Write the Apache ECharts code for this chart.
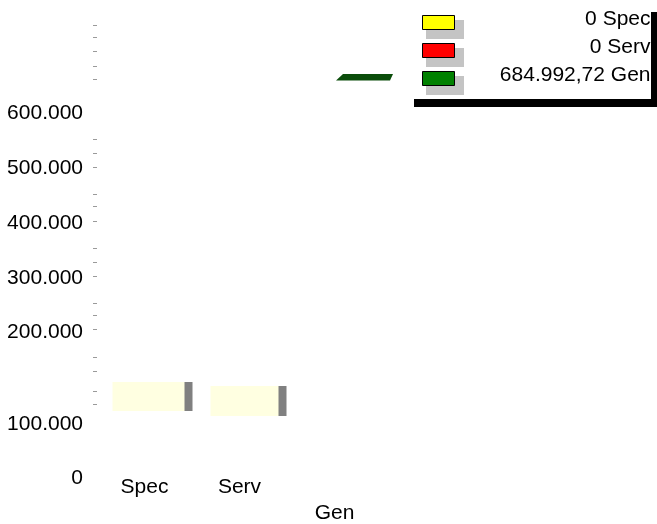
<!DOCTYPE html>
<html>
<head>
<meta charset="utf-8">
<script src="https://cdn.jsdelivr.net/npm/echarts@6/dist/echarts.min.js"></script>
<style>
  html, body { margin: 0; padding: 0; background: #fff; }
  #chart { width: 657px; height: 524px; }
</style>
</head>
<body>
<div id="chart"></div>
<script>
// ---- data ----
const categories = ['Spec', 'Serv', 'Gen'];
const values = [0, 0, 684992.72];
const legendColors = ['#ffff00', '#ff0000', '#008000'];
const lowTickLabels = [0, 100000];
const highTickLabels = [200000, 300000, 400000, 500000, 600000];
const minorTicks = [69000, 93000, 130000, 155000, 206000, 232000, 254000, 303000, 329000, 354000,
                    404000, 431000, 452000, 502000, 527000, 553000, 662000, 687000, 713000, 739000, 762000];

// ---- helpers ----
function fmt(v) {
  const parts = String(v).split('.');
  const i = parts[0].replace(/\B(?=(\d{3})+(?!\d))/g, '.');
  return parts[1] ? i + ',' + parts[1] : i;
}
const FONT = 'Liberation Sans, Arial, sans-serif';
const FS = 21;

// label box styles (not data)
const boxStyles = [
  { width: 72, height: 29, distance: 31, offset: [4, 0] },
  { width: 68, height: 30, distance: 26, offset: [5, 0] }
];

const chart = echarts.init(document.getElementById('chart'));

const barSeries = [0, 1].map(i => ({
  name: categories[i],
  type: 'bar',
  yAxisIndex: 1,
  stack: 'v',
  itemStyle: { color: legendColors[i] },
  data: categories.map((c, j) => j === i ? {
    value: values[i],
    label: {
      show: true,
      position: 'top',
      distance: boxStyles[i].distance,
      offset: boxStyles[i].offset,
      formatter: ' ',
      color: 'rgba(0,0,0,0)',
      width: boxStyles[i].width,
      height: boxStyles[i].height,
      padding: 0,
      backgroundColor: '#ffffe1',
      shadowColor: '#808080',
      shadowOffsetX: 8,
      shadowOffsetY: 0,
      shadowBlur: 0
    }
  } : null)
}));

const genSeries = {
  name: categories[2],
  type: 'pictorialBar',
  yAxisIndex: 1,
  symbol: 'path://M7,0L57,0L54,6.5L0,6.5Z',
  symbolSize: [57, 6.5],
  symbolPosition: 'end',
  symbolOffset: [30, 7],
  itemStyle: { color: '#0b4d0b' },
  z: 5,
  data: categories.map((c, j) => j === 2 ? values[2] : null)
};

const legendText = (w, color) => ({
  color: color,
  fontSize: FS,
  fontFamily: FONT,
  rich: {
    r: { width: w, align: 'right', fontSize: FS, fontFamily: FONT, color: color,
         lineHeight: 22, padding: [0, 0, 6, 0] }
  }
});
const legendFormatter = name => '{r|' + fmt(values[categories.indexOf(name)]) + ' ' + name + '}';

const option = {
  animation: false,
  backgroundColor: '#fff',
  textStyle: { fontFamily: FONT },
  grid: { left: 97, right: 275, top: 20, bottom: 46, containLabel: false },
  legend: [
    {
      // back layer: white box with black shadow and grey icon shadows
      orient: 'vertical',
      left: 406,
      top: 4,
      z: 4,
      padding: [12, 1, 0, 20],
      itemGap: 1,
      itemWidth: 38,
      itemHeight: 19,
      icon: 'rect',
      selectedMode: false,
      backgroundColor: '#fff',
      shadowColor: '#000',
      shadowOffsetX: 8,
      shadowOffsetY: 8,
      shadowBlur: 0,
      itemStyle: { borderWidth: 0 },
      data: categories.map(c => ({ name: c, itemStyle: { color: '#c4c4c4' } })),
      formatter: legendFormatter,
      textStyle: legendText(181, 'rgba(0,0,0,0)')
    },
    {
      // front layer: coloured icons and text
      orient: 'vertical',
      left: 406,
      top: 4,
      z: 5,
      padding: [5, 1, 7, 16],
      itemGap: 1,
      itemWidth: 32,
      itemHeight: 14,
      icon: 'rect',
      selectedMode: false,
      itemStyle: { borderColor: '#000', borderWidth: 1 },
      data: categories.map((c, i) => ({ name: c, itemStyle: { color: legendColors[i] } })),
      formatter: legendFormatter,
      textStyle: legendText(191, '#000')
    }
  ],
  xAxis: {
    type: 'category',
    data: categories.map((c, i) => i === 2 ? { value: c, textStyle: { padding: [26, 0, 0, 0] } } : c),
    axisLine: { show: false },
    axisTick: { show: false },
    splitLine: { show: false },
    axisLabel: { color: '#000', fontSize: FS, fontFamily: FONT, margin: -1, interval: 0 }
  },
  yAxis: [
    {
      type: 'value',
      min: 0,
      max: 856000,
      position: 'left',
      axisLine: { show: false },
      axisTick: { show: false },
      splitLine: { show: false },
      axisLabel: {
        customValues: lowTickLabels,
        formatter: v => fmt(v),
        margin: 14,
        color: '#000',
        fontSize: FS,
        fontFamily: FONT
      }
    },
    {
      type: 'value',
      min: -65800,
      max: 770800,
      position: 'left',
      axisLine: { show: false },
      splitLine: { show: false },
      axisTick: {
        show: true,
        customValues: minorTicks,
        length: 4,
        lineStyle: { color: '#9a9a9a', width: 1 }
      },
      axisLabel: {
        customValues: highTickLabels,
        formatter: v => fmt(v),
        margin: 14,
        color: '#000',
        fontSize: FS,
        fontFamily: FONT
      }
    }
  ],
  series: [...barSeries, genSeries]
};

chart.setOption(option);
</script>
</body>
</html>
